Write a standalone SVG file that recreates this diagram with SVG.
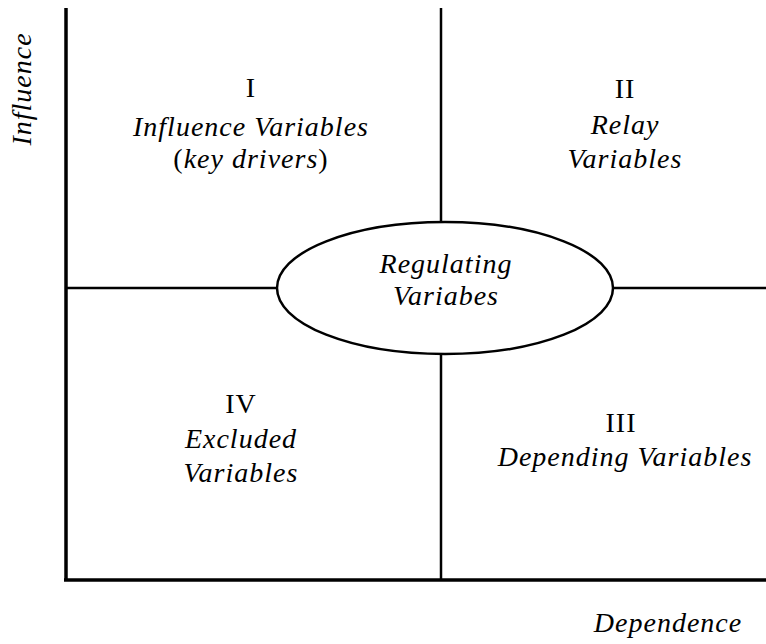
<svg xmlns="http://www.w3.org/2000/svg" width="766" height="644" viewBox="0 0 766 644">
<style>
text{font-family:"Liberation Serif","Times New Roman",serif;font-size:28px;letter-spacing:1px;fill:#000;text-anchor:middle}
.i{font-style:italic}
.ln{stroke:#000;fill:none}
</style>
<rect width="766" height="644" fill="#fff"/>
<g id="connectors">
<line class="ln" x1="66" y1="8" x2="66" y2="581" stroke-width="3.5"/>
<line class="ln" x1="64" y1="580" x2="766" y2="580" stroke-width="3.5"/>
<line class="ln" x1="441" y1="8" x2="441" y2="222" stroke-width="2.5"/>
<line class="ln" x1="441" y1="354" x2="441" y2="580" stroke-width="2.5"/>
<line class="ln" x1="66" y1="288" x2="278" y2="288" stroke-width="2.5"/>
<line class="ln" x1="612" y1="288" x2="766" y2="288" stroke-width="2.5"/>
</g>
<g id="regulating">
<ellipse cx="445" cy="288" rx="168" ry="66" fill="#fff" stroke="#000" stroke-width="2.5"/>
<text class="i" x="446" y="273">Regulating</text>
<text class="i" x="446" y="305">Variabes</text>
</g>
<g id="q1">
<text x="251" y="97">I</text>
<text class="i" x="251" y="136">Influence Variables</text>
<text x="251" y="168">(<tspan class="i">key drivers</tspan>)</text>
</g>
<g id="q2">
<text x="625" y="98">II</text>
<text class="i" x="625" y="134">Relay</text>
<text class="i" x="625" y="168">Variables</text>
</g>
<g id="q4">
<text x="241" y="413">IV</text>
<text class="i" x="241" y="448">Excluded</text>
<text class="i" x="241" y="482">Variables</text>
</g>
<g id="q3">
<text x="621" y="432">III</text>
<text class="i" x="625" y="466">Depending Variables</text>
</g>
<g id="axis-labels">
<text class="i" transform="translate(31,89) rotate(-90)">Influence</text>
<text class="i" x="668" y="632">Dependence</text>
</g>
</svg>
